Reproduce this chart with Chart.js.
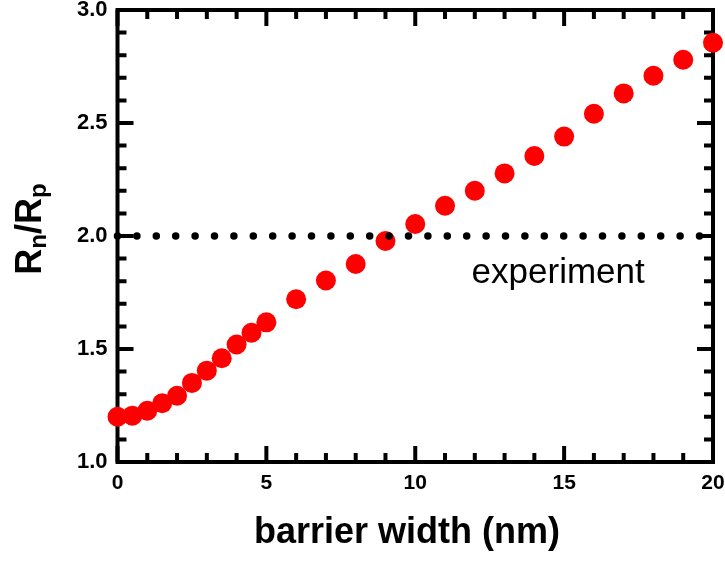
<!DOCTYPE html>
<html>
<head>
<meta charset="utf-8">
<script src="https://cdn.jsdelivr.net/npm/chart.js@4/dist/chart.umd.min.js"></script>
<style>
  body { margin: 0; background: #fff; }
  #wrap { width: 725px; height: 561px; position: relative; }
</style>
</head>
<body>
<div id="wrap"><canvas id="chart"></canvas></div>
<script>
// barrier width (nm) and computed ratio
const barrierWidth = [0, 0.5, 1, 1.5, 2, 2.5, 3, 3.5, 4, 4.5, 5, 6, 7, 8, 9, 10, 11, 12, 13, 14, 15, 16, 17, 18, 19, 20];
const ratio = [1.20, 1.205, 1.227, 1.26, 1.293, 1.35, 1.404, 1.459, 1.52, 1.572, 1.618, 1.72, 1.803, 1.876, 1.978, 2.053, 2.134, 2.20, 2.277, 2.354, 2.44, 2.541, 2.631, 2.709, 2.78, 2.855];

// experimental value (dotted line)
const experimentX = [0, 20];
const experimentY = [2.0, 2.0];
const experimentLabel = "experiment";
const experimentLabelAt = [14.8, 1.835];

const xTitle = "barrier width (nm)";
const yTitleParts = [["R", false], ["n", true], ["/R", false], ["p", true]];

const FONT = "'Liberation Sans', Arial, Helvetica, sans-serif";

// frame with inward ticks on all four sides
const framePlugin = {
  id: "frame",
  beforeDatasetsDraw(chart) {
    const { ctx, chartArea: a, scales } = chart;
    const x = scales.x, y = scales.y;
    ctx.save();
    ctx.strokeStyle = "#000";
    ctx.lineWidth = 4;
    ctx.lineCap = "butt";
    ctx.beginPath();
    for (let i = 0; i <= 20; i++) {
      const px = x.getPixelForValue(i);
      const len = i % 5 === 0 ? 16 : 9;
      ctx.moveTo(px, a.bottom); ctx.lineTo(px, a.bottom - len);
      ctx.moveTo(px, a.top); ctx.lineTo(px, a.top + len);
    }
    for (let i = 0; i <= 20; i++) {
      const py = y.getPixelForValue(1 + i / 10);
      const len = i % 5 === 0 ? 16 : 9;
      ctx.moveTo(a.left, py); ctx.lineTo(a.left + len, py);
      ctx.moveTo(a.right, py); ctx.lineTo(a.right - len, py);
    }
    ctx.stroke();
    ctx.lineJoin = "miter";
    ctx.strokeRect(a.left, a.top, a.right - a.left, a.bottom - a.top);
    ctx.restore();
  },
  afterDraw(chart) {
    const { ctx, scales } = chart;
    ctx.save();
    ctx.fillStyle = "#000";
    // annotation
    ctx.font = "35px " + FONT;
    ctx.textAlign = "center";
    ctx.textBaseline = "middle";
    ctx.fillText(experimentLabel,
      scales.x.getPixelForValue(experimentLabelAt[0]),
      scales.y.getPixelForValue(experimentLabelAt[1]));
    // x title
    ctx.font = "bold 36px " + FONT;
    ctx.fillText(xTitle, 407, 533);
    // y title with subscripts
    ctx.textAlign = "left";
    ctx.textBaseline = "alphabetic";
    let total = 0;
    yTitleParts.forEach(([t, sub]) => {
      ctx.font = "bold " + (sub ? 24 : 36) + "px " + FONT;
      total += ctx.measureText(t).width;
    });
    ctx.translate(41, 229 + total / 2);
    ctx.rotate(-Math.PI / 2);
    let pos = 0;
    yTitleParts.forEach(([t, sub]) => {
      ctx.font = "bold " + (sub ? 24 : 36) + "px " + FONT;
      ctx.fillText(t, pos, sub ? 5 : 0);
      pos += ctx.measureText(t).width;
    });
    ctx.restore();
  }
};

new Chart(document.getElementById("chart"), {
  type: "scatter",
  data: {
    datasets: [
      {
        type: "line",
        data: experimentX.map((v, i) => ({ x: v, y: experimentY[i] })),
        borderColor: "#000",
        borderWidth: 7.5,
        borderDash: [0, 19.4],
        borderCapStyle: "round",
        pointRadius: 0,
        fill: false,
        clip: false
      },
      {
        data: barrierWidth.map((v, i) => ({ x: v, y: ratio[i] })),
        backgroundColor: "#ff0000",
        borderWidth: 0,
        pointRadius: 10,
        pointHoverRadius: 10,
        clip: false
      }
    ]
  },
  options: {
    responsive: true,
    maintainAspectRatio: false,
    animation: false,
    events: [],
    layout: { padding: { top: 9.5, right: 12, left: 0, bottom: 0 } },
    plugins: { legend: { display: false }, tooltip: { enabled: false } },
    scales: {
      x: {
        type: "linear",
        min: 0, max: 20,
        border: { display: false },
        grid: { display: false, drawTicks: false },
        ticks: {
          stepSize: 5,
          padding: 9,
          color: "#000",
          font: { family: FONT, size: 21, weight: "bold" },
          maxRotation: 0
        },
        afterFit(s) { s.height = 99; s.paddingLeft = 0; s.paddingRight = 0; }
      },
      y: {
        type: "linear",
        min: 1, max: 3,
        border: { display: false },
        grid: { display: false, drawTicks: false },
        ticks: {
          stepSize: 0.5,
          padding: 10,
          color: "#000",
          font: { family: FONT, size: 22, weight: "bold" },
          callback: v => v.toFixed(1)
        },
        afterFit(s) { s.width = 117.5; s.paddingTop = 0; s.paddingBottom = 0; }
      }
    }
  },
  plugins: [framePlugin]
});
</script>
</body>
</html>
